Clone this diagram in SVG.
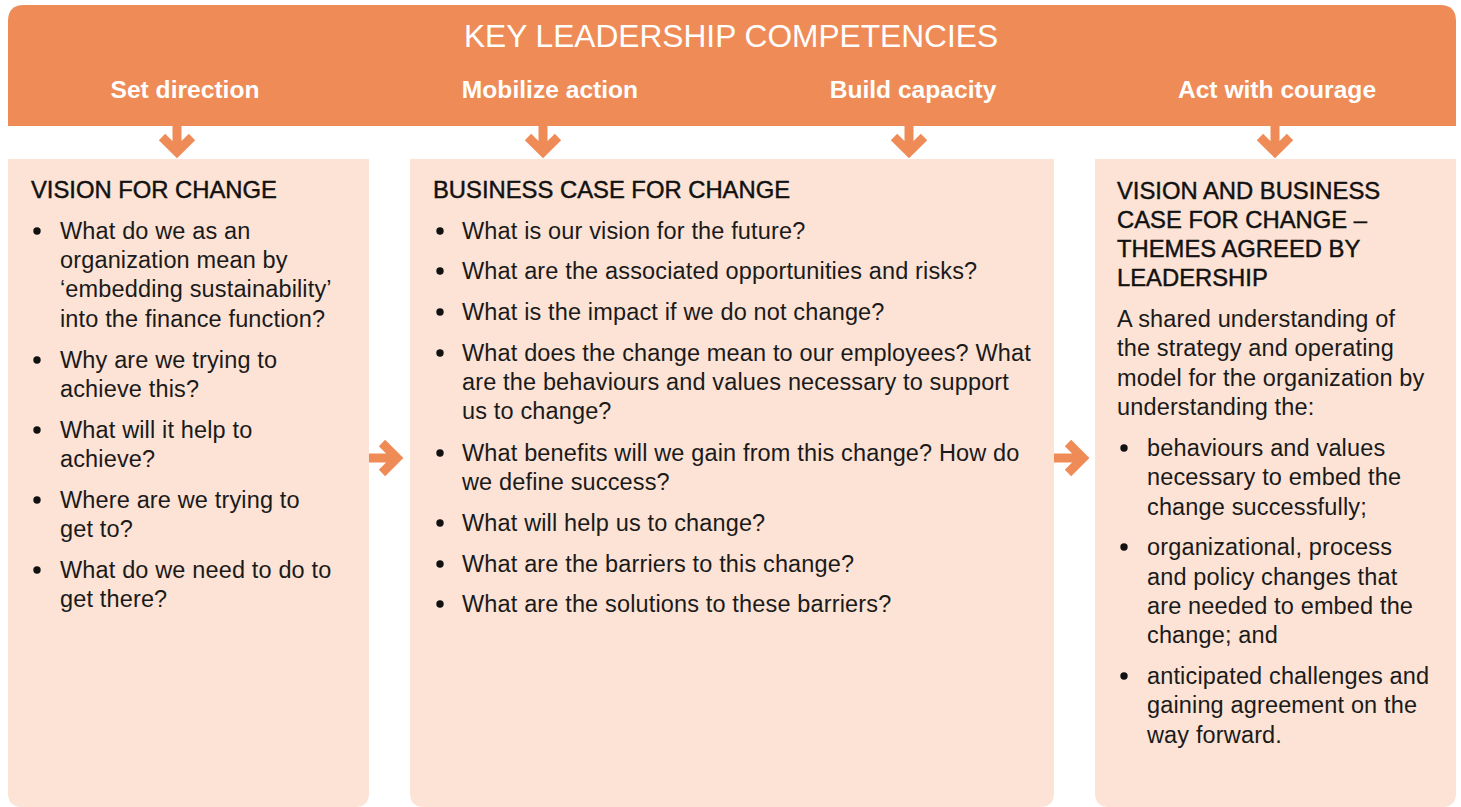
<svg xmlns="http://www.w3.org/2000/svg" width="1461" height="807" viewBox="0 0 1461 807">
<style>
.hdr{fill:#EF8B56}
.box{fill:#FCE3D5}
.title{font-family:"Liberation Sans",Arial,sans-serif;font-size:31.7px;fill:#fff;text-anchor:middle}
.sub{font-family:"Liberation Sans",Arial,sans-serif;font-size:24.6px;font-weight:bold;fill:#fff;text-anchor:middle}
.h{font-family:"Liberation Sans",Arial,sans-serif;font-size:23.8px;fill:#111;stroke:#111;stroke-width:0.45}
.t{font-family:"Liberation Sans",Arial,sans-serif;font-size:23.5px;letter-spacing:0.15px;fill:#1a1a1a}
.b{fill:#111}
.arr{fill:none;stroke:#EF8B56;stroke-width:9;stroke-linejoin:miter}
</style>
<g id="header">
<path class="hdr" d="M8,126 V21 Q8,5 24,5 H1440 Q1456,5 1456,21 V126 Z"/>
<text class="title" x="731" y="47">KEY LEADERSHIP COMPETENCIES</text>
<text class="sub" x="185" y="98">Set direction</text>
<text class="sub" x="550" y="98">Mobilize action</text>
<text class="sub" x="913" y="98">Build capacity</text>
<text class="sub" x="1277" y="98">Act with courage</text>
</g>
<g id="connectors">
<g id="down1"><path class="arr" d="M177,126 V150 M162,137 L177,152 L192,137"/></g>
<g id="down2"><path class="arr" d="M543,126 V150 M528,137 L543,152 L558,137"/></g>
<g id="down3"><path class="arr" d="M909,126 V150 M894,137 L909,152 L924,137"/></g>
<g id="down4"><path class="arr" d="M1275,126 V150 M1260,137 L1275,152 L1290,137"/></g>
<g id="right1"><path class="arr" d="M369,458 H394 M382,443 L397,458 L382,473"/></g>
<g id="right2"><path class="arr" d="M1054,458 H1080 M1068,443 L1083,458 L1068,473"/></g>
</g>
<g id="vision">
<path class="box" d="M8,159 H369 V793 Q369,807 355,807 H22 Q8,807 8,793 Z"/>
<text class="h" x="31" y="198">VISION FOR CHANGE</text>
<g class="t">
<circle class="b" cx="37" cy="231" r="3.7"/>
<text x="60" y="239">What do we as an</text>
<text x="60" y="268">organization mean by</text>
<text x="60" y="297">‘embedding sustainability’</text>
<text x="60" y="327">into the finance function?</text>
<circle class="b" cx="37" cy="360" r="3.7"/>
<text x="60" y="368">Why are we trying to</text>
<text x="60" y="397">achieve this?</text>
<circle class="b" cx="37" cy="430" r="3.7"/>
<text x="60" y="438">What will it help to</text>
<text x="60" y="467">achieve?</text>
<circle class="b" cx="37" cy="500" r="3.7"/>
<text x="60" y="508">Where are we trying to</text>
<text x="60" y="537">get to?</text>
<circle class="b" cx="37" cy="570" r="3.7"/>
<text x="60" y="578">What do we need to do to</text>
<text x="60" y="607">get there?</text>
</g>
</g>
<g id="business">
<path class="box" d="M410,159 H1054 V793 Q1054,807 1040,807 H424 Q410,807 410,793 Z"/>
<text class="h" x="433" y="198">BUSINESS CASE FOR CHANGE</text>
<g class="t">
<circle class="b" cx="440" cy="231" r="3.7"/>
<text x="462" y="239">What is our vision for the future?</text>
<circle class="b" cx="440" cy="271" r="3.7"/>
<text x="462" y="279">What are the associated opportunities and risks?</text>
<circle class="b" cx="440" cy="312" r="3.7"/>
<text x="462" y="320">What is the impact if we do not change?</text>
<circle class="b" cx="440" cy="353" r="3.7"/>
<text x="462" y="361">What does the change mean to our employees? What</text>
<text x="462" y="390">are the behaviours and values necessary to support</text>
<text x="462" y="419">us to change?</text>
<circle class="b" cx="440" cy="453" r="3.7"/>
<text x="462" y="461">What benefits will we gain from this change? How do</text>
<text x="462" y="490">we define success?</text>
<circle class="b" cx="440" cy="523" r="3.7"/>
<text x="462" y="531">What will help us to change?</text>
<circle class="b" cx="440" cy="564" r="3.7"/>
<text x="462" y="572">What are the barriers to this change?</text>
<circle class="b" cx="440" cy="604" r="3.7"/>
<text x="462" y="612">What are the solutions to these barriers?</text>
</g>
</g>
<g id="themes">
<path class="box" d="M1095,159 H1456 V793 Q1456,807 1442,807 H1109 Q1095,807 1095,793 Z"/>
<text class="h" x="1117" y="199">VISION AND BUSINESS</text>
<text class="h" x="1117" y="228">CASE FOR CHANGE –</text>
<text class="h" x="1117" y="257">THEMES AGREED BY</text>
<text class="h" x="1117" y="286">LEADERSHIP</text>
<g class="t">
<text x="1117" y="327">A shared understanding of</text>
<text x="1117" y="356">the strategy and operating</text>
<text x="1117" y="386">model for the organization by</text>
<text x="1117" y="415">understanding the:</text>
<circle class="b" cx="1124" cy="448" r="3.7"/>
<text x="1147" y="456">behaviours and values</text>
<text x="1147" y="485">necessary to embed the</text>
<text x="1147" y="515">change successfully;</text>
<circle class="b" cx="1124" cy="547" r="3.7"/>
<text x="1147" y="555">organizational, process</text>
<text x="1147" y="585">and policy changes that</text>
<text x="1147" y="614">are needed to embed the</text>
<text x="1147" y="643">change; and</text>
<circle class="b" cx="1124" cy="676" r="3.7"/>
<text x="1147" y="684">anticipated challenges and</text>
<text x="1147" y="713">gaining agreement on the</text>
<text x="1147" y="743">way forward.</text>
</g>
</g>
</svg>
